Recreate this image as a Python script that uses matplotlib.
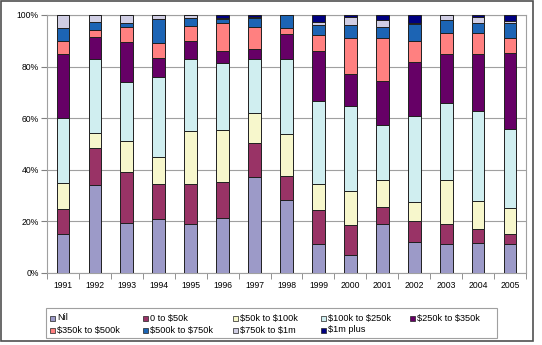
import matplotlib
matplotlib.use("Agg")
import matplotlib.pyplot as plt
from matplotlib.patches import Rectangle
import numpy as np

plt.rcParams["text.parse_math"] = False
plt.rcParams["font.family"] = ["Liberation Sans", "DejaVu Sans"]

years = ["1991", "1992", "1993", "1994", "1995", "1996", "1997", "1998",
         "1999", "2000", "2001", "2002", "2003", "2004", "2005"]
labels = ["Nil", "0 to $50k", "$50k to $100k", "$100k to $250k", "$250k to $350k",
          "$350k to $500k", "$500k to $750k", "$750k to $1m", "$1m plus"]

nil       = [15.0, 34.2, 19.4, 20.9, 19.0, 21.3, 37.2, 28.3, 11.2, 7.1, 19.0, 12.0, 11.2, 11.6, 11.2]
to50      = [10.0, 14.2, 19.8, 13.6, 15.6, 13.9, 13.1, 9.4, 13.1, 11.5, 6.5, 8.3, 7.8, 5.4, 3.9]
to100     = [10.0, 5.8, 12.0, 10.4, 20.4, 20.2, 11.6, 16.1, 10.3, 13.0, 10.4, 7.3, 16.9, 10.9, 10.1]
to250     = [25.0, 28.6, 23.0, 31.0, 28.1, 26.1, 20.9, 29.3, 31.9, 33.3, 21.4, 33.2, 29.8, 34.8, 30.5]
to350     = [25.0, 8.6, 15.2, 7.5, 6.7, 4.6, 3.9, 9.5, 19.4, 12.3, 17.2, 20.9, 19.2, 22.2, 29.5]
to500     = [5.0, 2.8, 6.1, 5.9, 6.1, 10.7, 8.5, 2.2, 6.5, 13.8, 16.5, 8.1, 8.0, 8.0, 5.8]
to750     = [5.0, 3.0, 1.3, 9.0, 2.8, 1.7, 3.8, 5.2, 3.7, 5.1, 4.5, 6.7, 5.2, 3.9, 5.8]
to1m      = [5.0, 2.8, 3.2, 1.7, 1.3, 0.3, 0.3, 0.0, 1.2, 3.0, 2.4, 0.5, 1.9, 2.6, 0.7]
plus1m    = [0.0, 0.0, 0.0, 0.0, 0.0, 1.2, 0.7, 0.0, 2.7, 0.9, 2.1, 3.0, 0.0, 0.6, 2.5]

series = [nil, to50, to100, to250, to350, to500, to750, to1m, plus1m]
colors = ["#9C9AC8", "#993366", "#F7F7CC", "#D0EEF0", "#660066",
          "#FF8080", "#1C64B4", "#D0CEE4", "#000080"]

W, H = 542, 345
fig = plt.figure(figsize=(W / 100, H / 100), dpi=100)
fig.patch.set_facecolor("white")
ax = fig.add_axes([47 / W, 1 - 273 / H, (526 - 47) / W, (273 - 15) / H])

x = np.arange(len(years))
data = np.array(series, dtype=float)
totals = data.sum(axis=0)
pct = data / totals * 100
bottom = np.zeros(len(years))
for vals, c, lab in zip(pct, colors, labels):
    ax.bar(x, vals, width=0.4, bottom=bottom, color=c, edgecolor="#202020",
           linewidth=0.7, label=lab, zorder=3)
    bottom += vals

ax.set_xlim(-0.5, len(years) - 0.5)
ax.set_ylim(0, 100)
ax.set_yticks(np.arange(0, 101, 20))
ax.set_yticklabels([f"{v}%" for v in range(0, 101, 20)], fontsize=6.2)
ax.set_xticks(x)
ax.set_xticklabels(years, fontsize=6.2)
ax.set_xticks(np.arange(-0.5, len(years), 1), minor=True)
ax.tick_params(axis="x", which="major", length=0, pad=6)
ax.tick_params(axis="x", which="minor", length=4, color="#808080", direction="out")
ax.tick_params(axis="y", length=4, color="#808080", direction="out", pad=2)
ax.grid(axis="y", color="#A0A0A0", linewidth=0.8, zorder=0)
for s in ax.spines.values():
    s.set_color("#A0A0A0")
    s.set_linewidth(0.8)


def fx(px):
    return px / W


def fy(py):
    return 1 - py / H


# legend box (Excel style, row-wise, equal columns)
fig.patches.append(Rectangle((fx(46), fy(338)), fx(497) - fx(46), fy(308) - fy(338),
                             transform=fig.transFigure, facecolor="white",
                             edgecolor="#A0A0A0", linewidth=0.8))
col_x = [50, 143, 233, 321, 410]
row_y = [318, 330]
for i, (c, lab) in enumerate(zip(colors, labels)):
    r, k = divmod(i, 5)
    mx, my = col_x[k], row_y[r]
    fig.patches.append(Rectangle((fx(mx), fy(my + 2.5)), fx(5), 5 / H,
                                 transform=fig.transFigure, facecolor=c,
                                 edgecolor="#202020", linewidth=0.5))
    fig.text(fx(mx + 7), fy(my), lab, fontsize=6.6, va="center", ha="left")

fig.patches.append(Rectangle((fx(1), fy(341)), fx(533) - fx(1), fy(1) - fy(341),
                             transform=fig.transFigure, fill=False,
                             edgecolor="#505050", linewidth=1.2))

fig.savefig("out.png", dpi=100)
